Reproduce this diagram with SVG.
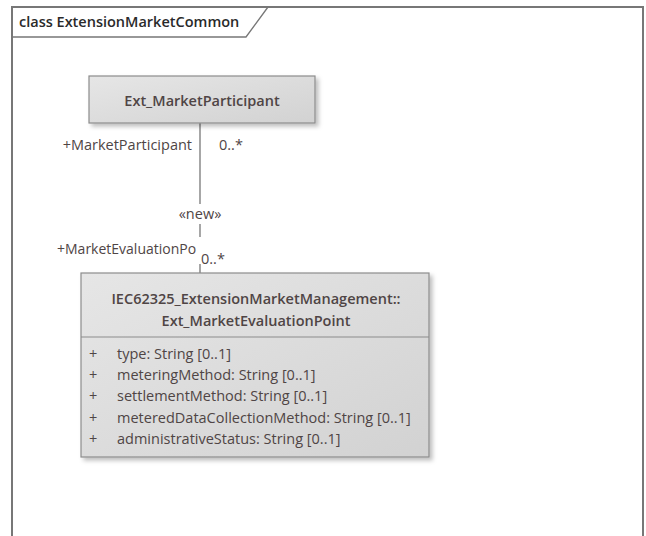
<svg xmlns="http://www.w3.org/2000/svg" width="646" height="536" viewBox="0 0 646 536">
<defs>
<linearGradient id="g" x1="0" y1="0" x2="1" y2="1">
<stop offset="0" stop-color="#e6e6e6"/>
<stop offset="1" stop-color="#d2d2d2"/>
</linearGradient>
<filter id="sh" x="-5%" y="-5%" width="115%" height="120%">
<feDropShadow dx="3" dy="3" stdDeviation="2" flood-color="#000" flood-opacity="0.25"/>
</filter>
</defs>
<style>
text{font-family:"Open Sans","Noto Sans","DejaVu Sans",sans-serif;fill:#4f4545;font-size:14.5px}
.b{font-weight:600}
.box{fill:url(#g);stroke:#8c8c8c;stroke-width:1.2}
.ln{stroke:#777;stroke-width:1.3;fill:none}
</style>
<rect width="646" height="536" fill="#fff"/>
<g id="frame">
<path d="M12,540 V7 H643 V540" fill="none" stroke="#777" stroke-width="2"/>
<path d="M12,37 H246 L268,7" fill="none" stroke="#777" stroke-width="1.3"/>
<text x="19" y="27" class="b" style="fill:#2a2a2a">class ExtensionMarketCommon</text>
</g>
<g id="connectors">
<line class="ln" x1="200" y1="123" x2="200" y2="204"/>
<line class="ln" x1="200" y1="224" x2="200" y2="237"/>
<line class="ln" x1="200" y1="264" x2="200" y2="273"/>
<text x="200" y="219" text-anchor="middle">«new»</text>
<text x="192" y="150" text-anchor="end">+MarketParticipant</text>
<text x="219" y="150">0..*</text>
<text x="57" y="254" style="font-size:14px">+MarketEvaluationPo</text>
<text x="201" y="264">0..*</text>
</g>
<g id="Ext_MarketParticipant">
<rect class="box" x="89" y="76" width="226" height="47" filter="url(#sh)"/>
<text x="202" y="106" text-anchor="middle" class="b">Ext_MarketParticipant</text>
</g>
<g id="Ext_MarketEvaluationPoint">
<rect class="box" x="81" y="273" width="348" height="184" filter="url(#sh)"/>
<line x1="81" y1="337" x2="429" y2="337" stroke="#8c8c8c" stroke-width="1.2"/>
<text x="256" y="304" text-anchor="middle" class="b">IEC62325_ExtensionMarketManagement::</text>
<text x="256" y="326" text-anchor="middle" class="b">Ext_MarketEvaluationPoint</text>
<text x="89" y="359">+</text><text x="117" y="359">type: String [0..1]</text>
<text x="89" y="380">+</text><text x="117" y="380">meteringMethod: String [0..1]</text>
<text x="89" y="401">+</text><text x="117" y="401">settlementMethod: String [0..1]</text>
<text x="89" y="423">+</text><text x="117" y="423">meteredDataCollectionMethod: String [0..1]</text>
<text x="89" y="444">+</text><text x="117" y="444">administrativeStatus: String [0..1]</text>
</g>
</svg>
